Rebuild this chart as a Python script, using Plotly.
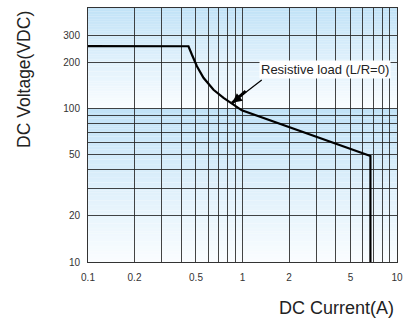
import plotly.graph_objects as go
import numpy as np

# ---- data ----
current_a = [0.1, 0.447, 0.470, 0.507, 0.559, 0.649, 0.754, 0.875, 0.99, 6.73, 6.73]
voltage_v = [254, 253.5, 224, 188, 158, 132, 117, 106, 97, 49, 10]

x_tick_vals = [0.1, 0.2, 0.5, 1, 2, 5, 10]
x_tick_text = ["0.1", "0.2", "0.5", "1", "2", "5", "10"]
y_tick_vals = [10, 20, 50, 100, 200, 300]
y_tick_text = ["10", "20", "50", "100", "200", "300"]

x_grid = [0.3, 0.4, 0.6, 0.7, 0.8, 0.9, 3, 4, 6, 7, 8, 9]
y_grid = [30, 40, 60, 70, 80, 90]

x_range_log = [-1, 1]
y_range_log = [1, 2.653]

label_text = "Resistive load (L/R=0)"
label_pos = (3.44, 2.254)   # x value, log10(y)
arrow_tip = (0.858, 108.6)

FONT = "Liberation Sans, Arial, sans-serif"

fig = go.Figure()
fig.add_trace(go.Scatter(x=current_a, y=voltage_v, mode="lines",
                         line=dict(color="black", width=2.2),
                         hoverinfo="skip", showlegend=False))

# background gradient: each band white at bottom -> light blue at top
top_c = np.array([193, 226, 247])
bot_c = np.array([250, 253, 255])
ylo, yhi = y_range_log
def pf(logv):
    return (logv - ylo) / (yhi - ylo)
bands = [(1.0, 2.0), (2.0, yhi)]
shapes = []
N = 60
for a, b in bands:
    p0, p1 = pf(a), pf(b)
    for i in range(N):
        t = (i + 0.5) / N
        c = bot_c + (top_c - bot_c) * t
        shapes.append(dict(type="rect", xref="paper", yref="paper",
                           x0=0, x1=1,
                           y0=p0 + (p1 - p0) * i / N,
                           y1=p0 + (p1 - p0) * (i + 1) / N + 0.0005,
                           fillcolor="rgb(%d,%d,%d)" % tuple(c.round()),
                           line=dict(width=0), layer="below"))

grid_col = "rgba(35,35,35,0.85)"
fig.update_layout(
    width=404, height=322,
    margin=dict(l=88, r=7, t=8, b=60, autoexpand=False),
    paper_bgcolor="white", plot_bgcolor="white",
    shapes=shapes,
    font=dict(family=FONT, size=10, color="#333"),
    xaxis=dict(type="log", range=x_range_log, automargin=False,
               tickvals=x_tick_vals, ticktext=x_tick_text,
               ticks="outside", ticklen=6, tickcolor="rgba(0,0,0,0)",
               showgrid=True, gridcolor=grid_col, gridwidth=1,
               minor=dict(tickvals=x_grid, showgrid=True, gridcolor=grid_col, gridwidth=1, ticks=""),
               showline=True, linecolor="#333", linewidth=1, mirror=True,
               zeroline=False, tickfont=dict(size=10, color="#333")),
    yaxis=dict(type="log", range=y_range_log, automargin=False,
               tickvals=y_tick_vals, ticktext=y_tick_text,
               ticks="outside", ticklen=5, tickcolor="rgba(0,0,0,0)",
               showgrid=True, gridcolor=grid_col, gridwidth=1,
               minor=dict(tickvals=y_grid, showgrid=True, gridcolor=grid_col, gridwidth=1, ticks=""),
               showline=True, linecolor="#333", linewidth=1, mirror=True,
               zeroline=False, tickfont=dict(size=10, color="#333")),
)

# arrow (thin line + head) and thickened head part
tipx, tipy = np.log10(arrow_tip[0]), np.log10(arrow_tip[1])
fig.add_annotation(x=tipx, y=tipy, xref="x", yref="y", text="",
                   showarrow=True, ax=31, ay=-24, arrowhead=2,
                   arrowsize=1.6, arrowwidth=1.2, arrowcolor="black")
fig.add_annotation(x=tipx, y=tipy, xref="x", yref="y", text="",
                   showarrow=True, ax=15, ay=-13, arrowhead=0,
                   arrowwidth=3, arrowcolor="black")
fig.add_annotation(x=np.log10(label_pos[0]), y=label_pos[1], xref="x", yref="y",
                   text=label_text, showarrow=False,
                   xanchor="center", yanchor="middle",
                   font=dict(family=FONT, size=13, color="#222"),
                   bgcolor="white", borderpad=1)

# axis titles
fig.add_annotation(xref="paper", yref="paper", x=-0.207, y=0.717,
                   xanchor="center", yanchor="middle",
                   text="DC Voltage(VDC)", textangle=-90, showarrow=False,
                   font=dict(family=FONT, size=17.5, color="#222"))
fig.add_annotation(xref="paper", yref="paper", x=0.804, y=-0.181,
                   xanchor="center", yanchor="middle",
                   text="DC Current(A)", showarrow=False,
                   font=dict(family=FONT, size=18, color="#222"))

fig.write_html("out.html", config={"displayModeBar": False, "staticPlot": True},
               post_script="document.body.style.margin='0';document.body.style.overflow='hidden';")
